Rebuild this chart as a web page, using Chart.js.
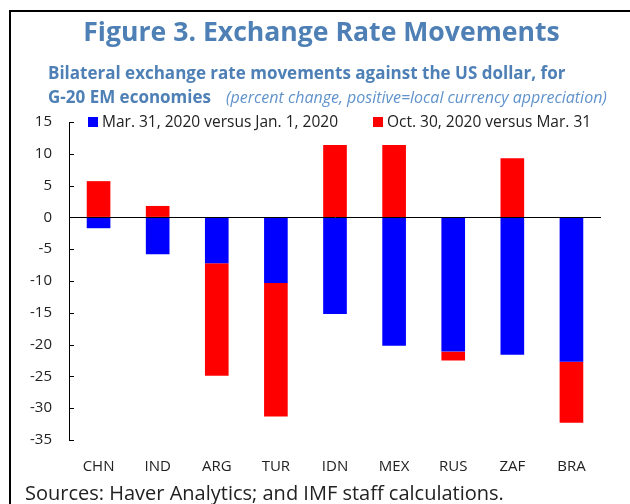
<!DOCTYPE html>
<html><head><meta charset="utf-8">
<script src="https://cdn.jsdelivr.net/npm/chart.js@4"></script>
<style>html,body{margin:0;padding:0;background:#fff}#wrap{width:630px;height:504px;position:relative}</style>
</head><body><div id="wrap"><canvas id="c" width="630" height="504"></canvas></div>
<script>
const categories = ['CHN','IND','ARG','TUR','IDN','MEX','RUS','ZAF','BRA'];
const marVsJan = [-1.7,-5.8,-7.2,-10.3,-15.2,-20.2,-21.1,-21.6,-22.7];
const octVsMar = [5.7,1.8,-17.7,-21.0,11.4,11.4,-1.4,9.3,-9.6];
const seriesLabels = ['Mar. 31, 2020 versus Jan. 1, 2020','Oct. 30, 2020 versus Mar. 31'];
const seriesColors = ['#0000FF','#FF0000'];
const yMin = -35, yMax = 15, yStep = 5;
const titleText = 'Figure 3. Exchange Rate Movements';
const subtitleLine1 = 'Bilateral exchange rate movements against the US dollar, for';
const subtitleLine2Bold = 'G-20 EM economies';
const subtitleLine2Italic = '(percent change, positive=local currency appreciation)';
const sourceText = 'Sources: Haver Analytics; and IMF staff calculations.';

const titleColor = '#4E80B6';
const textColor = '#222222';

const decor = {
  id: 'decor',
  beforeDraw(chart) {
    const ctx = chart.ctx;
    ctx.save();
    ctx.fillStyle = '#fff';
    ctx.fillRect(0, 0, chart.width, chart.height);
    ctx.restore();
  },
  afterDraw(chart) {
    const ctx = chart.ctx, a = chart.chartArea, ys = chart.scales.y;
    ctx.save();
    // frame
    ctx.strokeStyle = '#000'; ctx.lineWidth = 2;
    ctx.beginPath(); ctx.moveTo(10, chart.height); ctx.lineTo(10, 11); ctx.lineTo(chart.width, 11); ctx.stroke();
    // title
    ctx.fillStyle = titleColor; ctx.textBaseline = 'alphabetic';
    ctx.textAlign = 'center';
    ctx.font = 'bold 26.6px "Open Sans"';
    ctx.fillText(titleText, 321.5, 41);
    // subtitle
    ctx.textAlign = 'left';
    ctx.font = 'bold 17px "Open Sans"';
    ctx.fillText(subtitleLine1, 48, 79);
    ctx.fillText(subtitleLine2Bold, 48, 103);
    const wb = ctx.measureText(subtitleLine2Bold).width;
    ctx.font = 'italic 16px "Open Sans"';
    ctx.fillStyle = '#6093CC';
    ctx.fillText(subtitleLine2Italic, 48 + wb + 15, 103);
    // legend
    ctx.font = '15.5px "Open Sans"';
    const legX = [a.left + 19, a.left + 304];
    chart.data.datasets.forEach((ds, i) => {
      ctx.fillStyle = ds.backgroundColor;
      ctx.fillRect(legX[i], a.top - 5, 10, 10);
      ctx.fillStyle = textColor;
      ctx.fillText(ds.label, legX[i] + 14, a.top + 4.5);
    });
    // inward tick marks
    ctx.strokeStyle = '#000'; ctx.lineWidth = 1;
    ys.ticks.forEach(t => {
      const y = Math.round(ys.getPixelForValue(t.value)) + 0.5;
      ctx.beginPath(); ctx.moveTo(a.left, y); ctx.lineTo(a.left + 5, y); ctx.stroke();
    });
    // source
    ctx.fillStyle = textColor;
    ctx.font = '20px "Open Sans"';
    ctx.fillText(sourceText, 25, 500);
    ctx.restore();
  }
};

new Chart(document.getElementById('c'), {
  type: 'bar',
  data: {
    labels: categories,
    datasets: [
      { label: seriesLabels[0], data: marVsJan, backgroundColor: seriesColors[0], categoryPercentage: 0.8, barPercentage: 0.5 },
      { label: seriesLabels[1], data: octVsMar, backgroundColor: seriesColors[1], categoryPercentage: 0.8, barPercentage: 0.5 }
    ]
  },
  options: {
    responsive: false,
    animation: false,
    devicePixelRatio: 1,
    layout: { padding: { left: 0, right: 29, top: 122, bottom: 0 } },
    plugins: { legend: { display: false }, title: { display: false }, tooltip: { enabled: false } },
    scales: {
      x: {
        stacked: true,
        grid: { display: false },
        border: { display: false },
        ticks: { color: textColor, font: { family: 'Open Sans', size: 15 }, padding: 10, maxRotation: 0 },
        afterFit(s) { s.height = 64; }
      },
      y: {
        stacked: true,
        min: yMin, max: yMax,
        ticks: { stepSize: yStep, color: textColor, font: { family: 'Open Sans', size: 15 }, padding: 17 },
        grid: {
          drawTicks: false,
          color: ctx => (ctx.tick && ctx.tick.value === 0) ? '#000' : 'rgba(0,0,0,0)',
          lineWidth: 1
        },
        border: { display: true, color: '#000', width: 1 },
        afterFit(s) { s.width = 69; }
      }
    }
  },
  plugins: [decor]
});
</script>
</body></html>
